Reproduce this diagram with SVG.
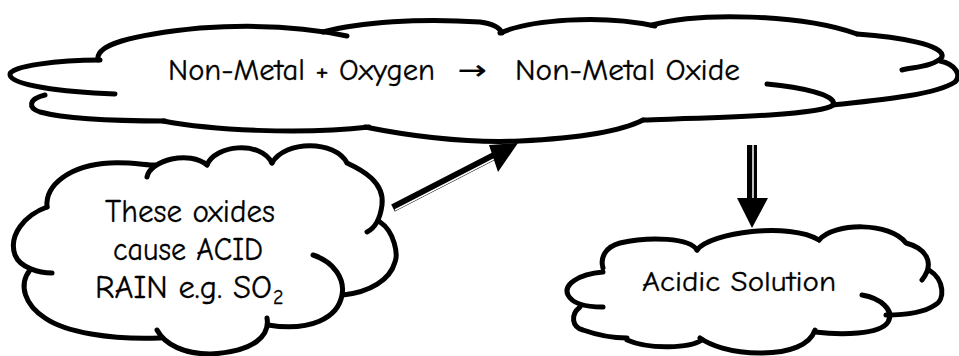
<svg xmlns="http://www.w3.org/2000/svg" width="959" height="356" viewBox="0 0 959 356">
<style>
.c{fill:none;stroke:#000;stroke-width:5;stroke-linecap:round;stroke-linejoin:round}
.t{font-family:"Comic Neue","Liberation Sans",Arial,sans-serif;fill:#000;stroke:#000;stroke-width:0.3}
.shaft{stroke:#000;fill:none}
.inner{stroke:#fff;fill:none}
</style>
<rect width="959" height="356" fill="#fff"/>
<g id="node-top">
<path class="c" d="M98,60 C95,45 130,35 200,28 C260,24 310,28 347,36"/>
<path class="c" d="M323,32 C360,22 420,18 480,22 C495,24 500,28 502,33"/>
<path class="c" d="M500,33 C530,20 600,14 655,26"/>
<path class="c" d="M652,25 C700,12 800,14 857,34"/>
<path class="c" d="M857,34 C900,37 945,45 942,57 C935,66 915,67 902,70"/>
<path class="c" d="M940,61 C955,64 962,75 955,82 C935,95 880,100 833,105"/>
<path class="c" d="M767,84 C800,87 838,95 833,105 C820,116 700,118 643,120"/>
<path class="c" d="M643,120 C620,132 580,138 520,141 C470,143 420,138 365,127"/>
<path class="c" d="M369,127 C300,135 210,130 163,121"/>
<path class="c" d="M100,60 C60,60 8,66 10,75 C12,85 60,92 115,94"/>
<path class="c" d="M45,95 C28,99 28,108 40,112 C70,120 130,121 165,121"/>
<text class="t" y="80" font-size="30"><tspan x="168" textLength="267" lengthAdjust="spacingAndGlyphs">Non-Metal + Oxygen</tspan><tspan x="458" textLength="29" lengthAdjust="spacingAndGlyphs" font-family="'DejaVu Sans',sans-serif" font-size="26" dy="-1">→</tspan><tspan x="515" y="80" textLength="225" lengthAdjust="spacingAndGlyphs">Non-Metal Oxide</tspan></text>
</g>
<g id="node-acidrain">
<path class="c" d="M47,207 C45,185 70,165 110,163 C130,162 145,165 155,165"/>
<path class="c" d="M147,177 C150,160 190,150 207,165"/>
<path class="c" d="M207,165 C215,145 260,140 272,163"/>
<path class="c" d="M272,163 C285,140 335,140 347,163 C362,170 385,182 382,205 C380,220 375,228 367,232"/>
<path class="c" d="M380,222 C395,232 398,255 395,262 C390,280 370,292 343,295"/>
<path class="c" d="M313,255 C335,262 345,280 342,295 C338,318 310,332 268,325"/>
<path class="c" d="M267,318 C270,335 255,352 210,354 C185,354 165,345 157,330"/>
<path class="c" d="M30,270 C18,285 25,305 45,318 C65,332 110,340 160,338"/>
<path class="c" d="M47,207 C25,215 8,235 15,255 C20,268 40,273 52,273"/>
<text class="t" font-size="33"><tspan x="105" y="222" textLength="170" lengthAdjust="spacingAndGlyphs">These oxides</tspan><tspan x="113" y="260" textLength="150" lengthAdjust="spacingAndGlyphs">cause ACID</tspan><tspan x="95" y="298" textLength="177" lengthAdjust="spacingAndGlyphs">RAIN e.g. SO</tspan><tspan x="273" y="304" font-size="20">2</tspan></text>
</g>
<g id="node-acidic">
<path class="c" d="M697,250 C690,238 650,236 620,243 C605,247 600,258 603,268"/>
<path class="c" d="M697,250 C710,232 790,222 819,240"/>
<path class="c" d="M819,240 C835,222 890,222 906,243 C925,248 936,262 922,280"/>
<path class="c" d="M929,270 C945,280 945,300 935,305 C925,312 905,315 886,315"/>
<path class="c" d="M862,295 C880,298 895,310 888,322 C880,335 840,335 815,332"/>
<path class="c" d="M815,330 C810,345 790,353 760,353 C730,353 710,345 700,338"/>
<path class="c" d="M702,340 C690,348 650,350 627,340"/>
<path class="c" d="M580,307 C570,315 572,327 583,330 C600,336 615,338 627,338"/>
<path class="c" d="M603,272 C578,274 563,285 568,295 C573,305 590,307 603,307"/>
<text class="t" x="642" y="291" font-size="29" textLength="194" lengthAdjust="spacingAndGlyphs">Acidic Solution</text>
</g>
<g id="connectors">
<g id="arrow-rain-to-top">
<line class="shaft" x1="393" y1="208" x2="496" y2="155" stroke-width="8"/>
<line class="inner" x1="395" y1="210" x2="494" y2="159" stroke-width="1.5"/>
<polygon points="518,143 489,145 498,172" fill="#000"/>
</g>
<g id="arrow-top-to-acidic">
<line class="shaft" x1="752" y1="145" x2="752" y2="200" stroke-width="10"/>
<line class="inner" x1="753" y1="145" x2="753" y2="199" stroke-width="1.5"/>
<polygon points="737,198 768,198 752,228" fill="#000"/>
</g>
</g>
</svg>
